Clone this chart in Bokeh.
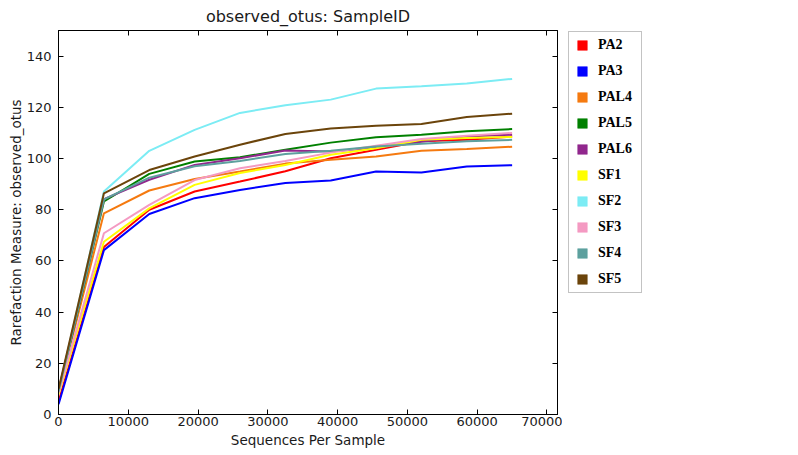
from bokeh.plotting import figure
from bokeh.layouts import row, column
from bokeh.models import (Legend, LegendItem, LinearAxis, Range1d, FixedTicker,
                          ColumnDataSource, CustomLabelingPolicy, Spacer)
from bokeh.embed import file_html
from bokeh.resources import INLINE

# ---- data ----
depths = [10, 6510, 13010, 19510, 26010, 32510, 39010, 45510, 52010, 58510, 65010]
samples = ["PA2", "PA3", "PAL4", "PAL5", "PAL6", "SF1", "SF2", "SF3", "SF4", "SF5"]
colors = ["#ff0000", "#0000ff", "#f57a10", "#008000", "#91278d",
          "#ffff00", "#7cecf4", "#f49ac2", "#5da09e", "#6b440b"]

PA2 = [5, 65.4, 80.0, 87.1, 91.0, 95.0, 100.1, 103.4, 106.7, 107.3, 108.6]
PA3 = [4, 64.2, 78.3, 84.5, 87.7, 90.4, 91.4, 94.9, 94.5, 96.9, 97.4]
PAL4 = [9, 78.6, 87.5, 92.0, 94.9, 98.0, 99.5, 100.8, 103.0, 103.7, 104.6]
PAL5 = [9, 83.2, 94.0, 98.8, 100.5, 103.4, 106.2, 108.3, 109.3, 110.6, 111.5]
PAL6 = [9.5, 84.1, 91.7, 97.5, 100.1, 103.1, 102.7, 104.2, 106.5, 108.6, 109.3]
SF1 = [8, 67.5, 80.5, 89.7, 94.3, 97.5, 101.5, 104.0, 107.3, 108.0, 108.4]
SF2 = [9, 87.1, 103.0, 111.2, 117.8, 120.8, 123.0, 127.3, 128.2, 129.3, 131.1]
SF3 = [8.5, 70.8, 81.9, 91.6, 96.2, 99.0, 102.3, 105.0, 107.6, 108.9, 110.0]
SF4 = [9, 84.0, 92.5, 97.0, 99.0, 101.8, 103.0, 104.7, 105.8, 106.7, 107.3]
SF5 = [10, 86.4, 95.5, 100.8, 105.4, 109.6, 111.7, 112.8, 113.5, 116.2, 117.5]
series = [PA2, PA3, PAL4, PAL5, PAL6, SF1, SF2, SF3, SF4, SF5]

x_ticks = [0, 10000, 20000, 30000, 40000, 50000, 60000, 70000]
y_ticks = [0, 20, 40, 60, 80, 100, 120, 140]

FONT = "DejaVu Sans"
TXT = "#1a1a1a"
H = 446

p = figure(width=558, height=H,
           output_backend="svg", toolbar_location=None,
           x_range=Range1d(0, 71511), y_range=Range1d(0, 150),
           title="observed_otus: SampleID",
           x_axis_label="Sequences Per Sample",
           y_axis_label="Rarefaction Measure: observed_otus",
           min_border_left=0, min_border_top=0, min_border_bottom=0,
           min_border_right=0)

p.title.align = "center"
p.title.text_font = FONT
p.title.text_font_style = "normal"
p.title.text_font_size = "16px"
p.title.text_color = TXT
p.title.standoff = 1

p.xgrid.visible = False
p.ygrid.visible = False
p.outline_line_color = "black"
p.outline_line_alpha = 1.0
p.outline_line_width = 1
p.background_fill_color = "white"
p.border_fill_color = "white"

no_labels = CustomLabelingPolicy(code="return new Set()")

def style_axis(ax, ticks, show_labels=True):
    ax.ticker = FixedTicker(ticks=ticks)
    ax.major_tick_in = 5
    ax.major_tick_out = 0
    ax.minor_tick_in = 0
    ax.minor_tick_out = 0
    ax.axis_line_color = "black"
    ax.major_tick_line_color = "black"
    ax.major_label_text_font = FONT
    ax.major_label_text_color = TXT
    if show_labels:
        ax.major_label_text_font_size = "13px"
        ax.major_label_standoff = 5
    else:
        ax.major_label_policy = no_labels
        ax.major_label_text_font_size = "1px"
        ax.major_label_standoff = 0

style_axis(p.xaxis[0], x_ticks)
style_axis(p.yaxis[0], y_ticks)
p.xaxis[0].major_label_standoff = 2
p.yaxis[0].major_label_standoff = 7
for ax in (p.xaxis[0], p.yaxis[0]):
    ax.axis_label_text_font = FONT
    ax.axis_label_text_font_style = "normal"
    ax.axis_label_text_font_size = "13.5px"
    ax.axis_label_text_color = TXT
p.xaxis[0].axis_label_standoff = 3
p.yaxis[0].axis_label_standoff = 0

top_ax = LinearAxis()
style_axis(top_ax, x_ticks, show_labels=False)
p.add_layout(top_ax, "above")
right_ax = LinearAxis()
style_axis(right_ax, y_ticks, show_labels=False)
p.add_layout(right_ax, "right")

for name, col, vals in zip(samples, colors, series):
    src = ColumnDataSource(dict(x=depths, y=vals))
    p.line("x", "y", source=src, line_color=col, line_width=2)

# ---- legend panel (separate figure to the right) ----
p2 = figure(width=90, height=H, output_backend="svg", toolbar_location=None,
            x_axis_location=None, y_axis_location=None,
            x_range=Range1d(0, 71511), y_range=Range1d(0, 150),
            min_border_left=0, min_border_right=0, min_border_top=0,
            min_border_bottom=0)
p2.outline_line_color = None
p2.xgrid.visible = False
p2.ygrid.visible = False
p2.background_fill_color = "white"
p2.border_fill_color = "white"

items = []
for name, col, vals in zip(samples, colors, series):
    src = ColumnDataSource(dict(x=depths, y=vals))
    sq = p2.scatter("x", "y", source=src, marker="square", fill_color=col,
                    line_color=col, line_width=0.5)
    sq.visible = False
    items.append(LegendItem(label=name, renderers=[sq]))

legend = Legend(items=items, location=(6, 121), orientation="vertical",
                glyph_width=24, glyph_height=24, spacing=2, padding=1, margin=0,
                label_standoff=4, label_width=42, label_height=24,
                label_text_font="Liberation Serif", label_text_font_style="bold",
                label_text_font_size="14px", label_text_color="black",
                border_line_color="#888888", border_line_width=1,
                background_fill_color="white", background_fill_alpha=1.0)
p2.add_layout(legend)

layout = column(Spacer(height=4),
                row(Spacer(width=4), p, p2))
open("out.html", "w").write(file_html(layout, INLINE))
